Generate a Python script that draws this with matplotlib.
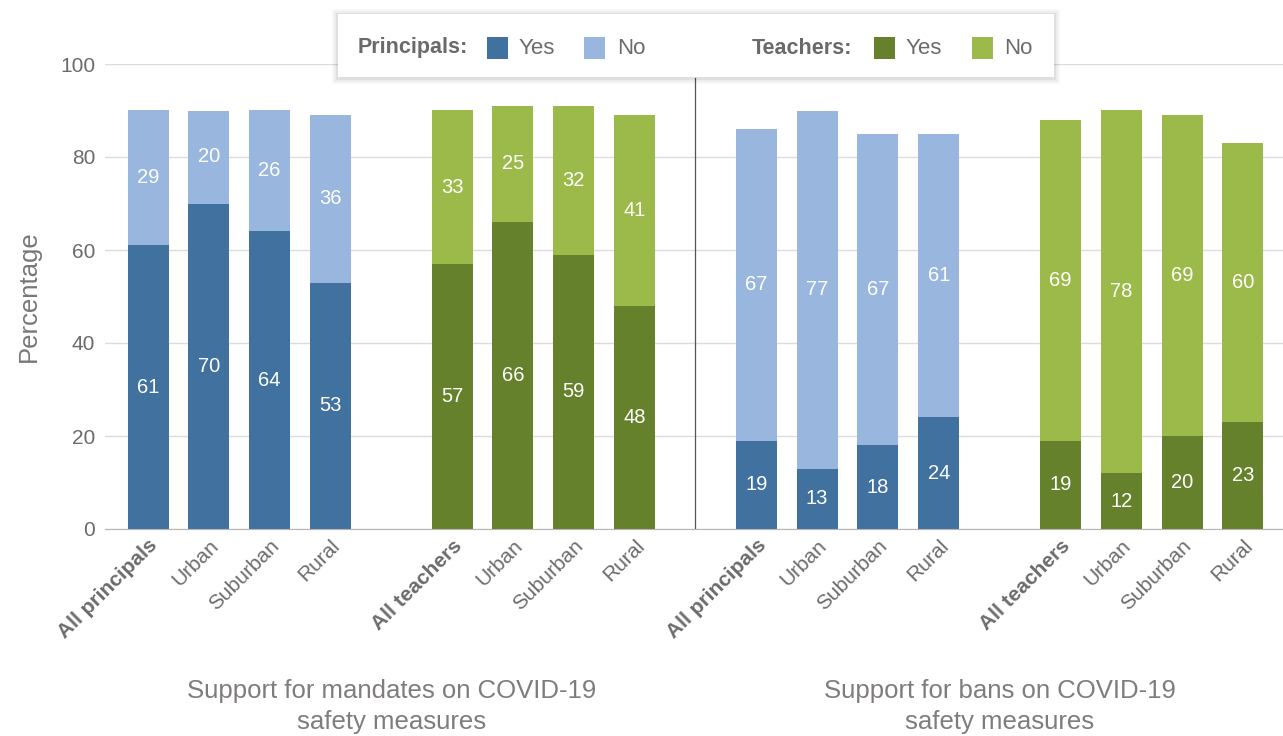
import matplotlib.pyplot as plt
from matplotlib.patches import FancyBboxPatch, Rectangle

plt.rcParams['font.family'] = ['Liberation Sans', 'DejaVu Sans']

groups = ["All principals", "Urban", "Suburban", "Rural"]
teacher_groups = ["All teachers", "Urban", "Suburban", "Rural"]

mandate_principals_yes = [61, 70, 64, 53]
mandate_principals_no = [29, 20, 26, 36]
mandate_teachers_yes = [57, 66, 59, 48]
mandate_teachers_no = [33, 25, 32, 41]
ban_principals_yes = [19, 13, 18, 24]
ban_principals_no = [67, 77, 67, 61]
ban_teachers_yes = [19, 12, 20, 23]
ban_teachers_no = [69, 78, 69, 60]

panel_titles = ["Support for mandates on COVID-19\nsafety measures",
                "Support for bans on COVID-19\nsafety measures"]

blue_yes, blue_no = "#41729f", "#98b6de"
green_yes, green_no = "#66812b", "#9cba4a"
grey_text = "#6d6a6a"

fig = plt.figure(figsize=(12.83, 7.36), dpi=100)
ax = fig.add_axes([105 / 1283, 207 / 736, 1 - 105 / 1283, 465 / 736])

series = [
    (0, groups, mandate_principals_yes, mandate_principals_no, blue_yes, blue_no),
    (5, teacher_groups, mandate_teachers_yes, mandate_teachers_no, green_yes, green_no),
    (10, groups, ban_principals_yes, ban_principals_no, blue_yes, blue_no),
    (15, teacher_groups, ban_teachers_yes, ban_teachers_no, green_yes, green_no),
]

tick_pos, tick_lab = [], []
for offset, labels, yes, no, c_yes, c_no in series:
    xs = [offset + i for i in range(len(labels))]
    ax.bar(xs, yes, width=0.674, color=c_yes, zorder=3)
    ax.bar(xs, no, width=0.674, bottom=yes, color=c_no, zorder=3)
    for x, y, n in zip(xs, yes, no):
        ax.text(x, y / 2, str(y), ha="center", va="center", color="white",
                fontsize=14.5, zorder=4)
        ax.text(x, y + n / 2, str(n), ha="center", va="center", color="white",
                fontsize=14.5, zorder=4)
    tick_pos += xs
    tick_lab += labels

ax.set_xlim(-0.707, 18.66)
ax.set_ylim(0, 100)
ax.set_yticks([0, 20, 40, 60, 80, 100])
ax.yaxis.grid(True, color="#dcdcdc", lw=1, zorder=0)
ax.tick_params(axis="y", length=0, labelsize=15, labelcolor=grey_text, pad=7)
ax.tick_params(axis="x", length=0, pad=5)
ax.set_xticks(tick_pos)
ax.set_xticklabels(tick_lab, rotation=45, ha="right", va="top",
                   rotation_mode="anchor", fontsize=15, color=grey_text)
for lab in ax.get_xticklabels():
    if lab.get_text().startswith("All"):
        lab.set_fontweight("bold")
for side in ["top", "right", "left"]:
    ax.spines[side].set_visible(False)
ax.spines["bottom"].set_color("#b5b5b5")
ax.spines["bottom"].set_zorder(5)

ax.axvline(9, ymin=0, ymax=0.97, color="#555555", lw=0.9, zorder=2)

ax.set_ylabel("Percentage", fontsize=18.5, color="#777777", labelpad=14)

# panel captions under each half
for i, title in enumerate(panel_titles):
    ax.text(4 + 10 * i, -0.322, title, transform=ax.get_xaxis_transform(),
            ha="center", va="top", fontsize=18.5, color="#807c7c", linespacing=1.38)

# legend box with soft shadow
lx, ly, lw_, lh = 338 / 1283, 659 / 736, 716 / 1283, 63 / 736
for k, a in [(6, 0.03), (4, 0.04), (2, 0.06)]:
    fig.add_artist(FancyBboxPatch((lx - k / 1283, ly - (k + 1) / 736),
                                  lw_ + 2 * k / 1283, lh + 2 * k / 736,
                                  boxstyle="square,pad=0", transform=fig.transFigure,
                                  facecolor="black", edgecolor="none", alpha=a, zorder=10))
fig.add_artist(Rectangle((lx, ly), lw_, lh, transform=fig.transFigure,
                         facecolor="white", edgecolor="none", zorder=11))

leg_y = 688 / 736
sq_w, sq_h = 21 / 1283, 21 / 736
legend_items = [
    ("Principals:", 358, [(487, blue_yes, "Yes", 519), (584, blue_no, "No", 617)]),
    ("Teachers:", 752, [(874, green_yes, "Yes", 906), (972, green_no, "No", 1004)]),
]
for head, hx, entries in legend_items:
    fig.text(hx / 1283, leg_y, head, fontsize=15.5, fontweight="bold",
             color="#6a6a6a", va="center", ha="left", zorder=12)
    for sx, col, txt, tx in entries:
        fig.add_artist(Rectangle((sx / 1283, leg_y - sq_h / 2), sq_w, sq_h,
                                 transform=fig.transFigure, facecolor=col,
                                 edgecolor="none", zorder=12))
        fig.text(tx / 1283, leg_y, txt, fontsize=16, color=grey_text,
                 va="center", ha="left", zorder=12)

fig.savefig("out.png", dpi=100)
